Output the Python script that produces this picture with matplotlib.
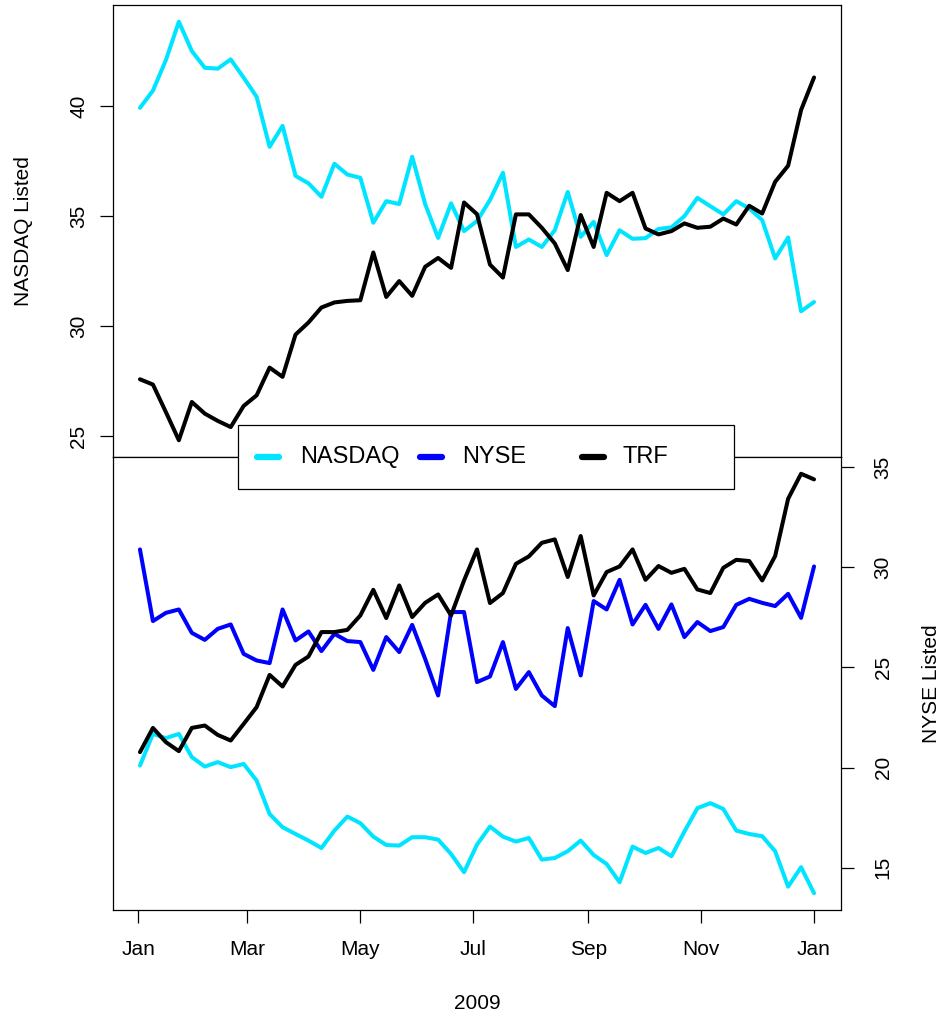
import matplotlib
matplotlib.use("Agg")
import matplotlib.pyplot as plt
import matplotlib.dates as mdates
from matplotlib.lines import Line2D
from matplotlib.patches import Rectangle
import pandas as pd

plt.rcParams['font.family'] = ['Liberation Sans', 'DejaVu Sans']

# weekly market share (%), 2009
dates = pd.date_range("2009-01-02", periods=53, freq="7D")

nasdaq_listed_nasdaq = [39.92, 40.70, 42.09, 43.83, 42.50, 41.74, 41.70, 42.12, 41.29, 40.42,
                        38.15, 39.10, 36.83, 36.49, 35.88, 37.38, 36.89, 36.74, 34.70, 35.68,
                        35.55, 37.70, 35.55, 34.01, 35.58, 34.32, 34.78, 35.73, 36.97, 33.60,
                        33.94, 33.60, 34.36, 36.10, 34.06, 34.74, 33.23, 34.36, 33.97, 34.00,
                        34.42, 34.49, 35.00, 35.83, 35.45, 35.08, 35.68, 35.35, 34.82, 33.08,
                        34.03, 30.68, 31.10]
nasdaq_listed_trf = [27.59, 27.35, 26.10, 24.82, 26.56, 26.03, 25.70, 25.42, 26.38, 26.86,
                     28.12, 27.70, 29.62, 30.17, 30.85, 31.08, 31.15, 31.18, 33.35, 31.33,
                     32.05, 31.38, 32.70, 33.10, 32.65, 35.62, 35.09, 32.80, 32.21, 35.08,
                     35.08, 34.47, 33.76, 32.55, 35.05, 33.60, 36.06, 35.68, 36.06, 34.44,
                     34.17, 34.32, 34.67, 34.47, 34.52, 34.89, 34.62, 35.47, 35.12, 36.56,
                     37.29, 39.82, 41.30]

nyse_listed_nasdaq = [20.10, 21.68, 21.47, 21.68, 20.52, 20.05, 20.27, 20.02, 20.18, 19.35,
                      17.68, 17.02, 16.68, 16.35, 15.98, 16.85, 17.55, 17.22, 16.55, 16.13,
                      16.10, 16.52, 16.52, 16.40, 15.68, 14.77, 16.15, 17.05, 16.55, 16.30,
                      16.48, 15.40, 15.48, 15.82, 16.35, 15.63, 15.18, 14.27, 16.05, 15.73,
                      15.98, 15.57, 16.80, 17.97, 18.22, 17.93, 16.85, 16.68, 16.57, 15.82,
                      14.05, 15.02, 13.72]
nyse_listed_nyse = [30.90, 27.32, 27.73, 27.90, 26.73, 26.38, 26.93, 27.15, 25.68, 25.35,
                    25.22, 27.90, 26.35, 26.80, 25.82, 26.68, 26.32, 26.27, 24.88, 26.52,
                    25.77, 27.13, 25.43, 23.60, 27.77, 27.77, 24.27, 24.55, 26.27, 23.93,
                    24.77, 23.60, 23.07, 26.97, 24.60, 28.32, 27.90, 29.38, 27.15, 28.13,
                    26.93, 28.15, 26.52, 27.27, 26.82, 27.02, 28.13, 28.43, 28.23, 28.07,
                    28.68, 27.48, 30.05]
nyse_listed_trf = [20.77, 21.98, 21.27, 20.82, 21.98, 22.10, 21.63, 21.35, 22.18, 23.02,
                   24.63, 24.05, 25.13, 25.55, 26.77, 26.77, 26.88, 27.60, 28.88, 27.47,
                   29.10, 27.52, 28.23, 28.65, 27.60, 29.35, 30.90, 28.22, 28.72, 30.18,
                   30.55, 31.23, 31.40, 29.52, 31.57, 28.60, 29.77, 30.05, 30.90, 29.38,
                   30.07, 29.73, 29.93, 28.90, 28.72, 29.98, 30.38, 30.32, 29.35, 30.57,
                   33.43, 34.68, 34.40]

series_names = ["NASDAQ", "NYSE", "TRF"]
series_colors = ["#00E5FF", "#0000FF", "#000000"]

top_ticks = [25, 30, 35, 40]
bottom_ticks = [15, 20, 25, 30, 35]
month_ticks = pd.date_range("2009-01-01", "2010-01-01", freq="2MS")

W, H = 947, 1017
fig = plt.figure(figsize=(W / 100, H / 100), dpi=100)


def px_axes(x0, y0, x1, y1):
    return fig.add_axes([x0 / W, 1 - y1 / H, (x1 - x0) / W, (y1 - y0) / H])


def r_lim(vals):
    lo, hi = min(vals), max(vals)
    pad = 0.04 * (hi - lo)
    return lo - pad, hi + pad


ax1 = px_axes(113, 5, 841, 457)
ax2 = px_axes(113, 457, 841, 910)

lw = 2.9
fs = 15
line_kw = dict(linewidth=lw, solid_capstyle="round", solid_joinstyle="round")

ax1.plot(dates, nasdaq_listed_nasdaq, color=series_colors[0], **line_kw)
ax1.plot(dates, nasdaq_listed_trf, color=series_colors[2], **line_kw)

ax2.plot(dates, nyse_listed_nasdaq, color=series_colors[0], **line_kw)
ax2.plot(dates, nyse_listed_nyse, color=series_colors[1], **line_kw)
ax2.plot(dates, nyse_listed_trf, color=series_colors[2], **line_kw)

d0, d1 = dates[0], dates[-1]
span = (d1 - d0) * 0.04
for ax in (ax1, ax2):
    ax.set_xlim(d0 - span, d1 + span)
    for s in ax.spines.values():
        s.set_linewidth(0.9)

ax1.set_ylim(*r_lim(nasdaq_listed_nasdaq + nasdaq_listed_trf))
ax2.set_ylim(*r_lim(nyse_listed_nasdaq + nyse_listed_nyse + nyse_listed_trf))

tick_kw = dict(direction="out", length=9.5, width=0.9, labelsize=fs)

# top panel: left axis only
ax1.set_xticks([])
ax1.set_yticks(top_ticks)
ax1.tick_params(axis="y", pad=8.5, **tick_kw)
for lab in ax1.get_yticklabels():
    lab.set_rotation(90)
    lab.set_va("center")
ax1.set_ylabel("NASDAQ Listed", fontsize=fs, labelpad=26)

# bottom panel: right axis and dates
ax2.yaxis.tick_right()
ax2.yaxis.set_label_position("right")
ax2.set_yticks(bottom_ticks)
ax2.tick_params(axis="y", pad=14, **tick_kw)
for lab in ax2.get_yticklabels():
    lab.set_rotation(90)
    lab.set_va("center")
ax2.set_ylabel("NYSE Listed", fontsize=fs, labelpad=21)

ax2.set_xticks(month_ticks)
ax2.xaxis.set_major_formatter(mdates.DateFormatter("%b"))
ax2.tick_params(axis="x", pad=12, **tick_kw)
ax2.set_xlabel("2009", fontsize=fs, labelpad=25)

# legend spanning both panels, drawn in pixel coordinates
leg_box = Rectangle((238 / W, 1 - 489 / H), (734 - 238) / W, (489 - 425) / H,
                    transform=fig.transFigure, facecolor="white", edgecolor="black",
                    linewidth=0.9, zorder=10)
fig.add_artist(leg_box)
leg_handles = [(257, 300), (420, 462), (582, 622)]
leg_y = 1 - 457 / H
for (hx, tx), name, col in zip(leg_handles, series_names, series_colors):
    fig.add_artist(Line2D([hx / W, (hx + 22) / W], [leg_y, leg_y], transform=fig.transFigure,
                          color=col, linewidth=4.5, solid_capstyle="round", zorder=11))
    fig.text(tx / W, leg_y, name, fontsize=17, va="center", ha="left", zorder=11)

fig.savefig("out.png", dpi=100)
